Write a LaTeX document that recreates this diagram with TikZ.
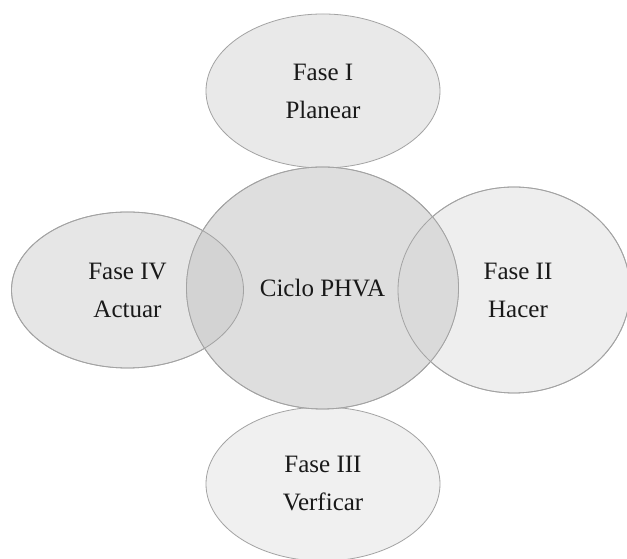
\documentclass[tikz,border=0pt]{standalone}
\usepackage{fontspec}
\setmainfont{Liberation Serif}
\usetikzlibrary{shapes.geometric}
\definecolor{edge}{HTML}{A3A3A3}
\definecolor{fTop}{HTML}{E9E9E9}
\definecolor{fLeft}{HTML}{E6E6E6}
\definecolor{fRight}{HTML}{EEEEEE}
\definecolor{fBot}{HTML}{F0F0F0}
\definecolor{fCen}{HTML}{DEDEDE}
\definecolor{fOvL}{HTML}{D3D3D3}
\definecolor{fOvR}{HTML}{DADADA}
\tikzset{
  phase/.style={ellipse, draw=edge, line width=0.8pt, inner sep=0pt,
    align=center, font=\fontsize{25}{38}\selectfont, text=black!90},
}
\begin{document}
\begin{tikzpicture}[x=1pt,y=1pt]
\useasboundingbox (0,0) rectangle (627,559);
\fill[white] (0,0) rectangle (627,559);
% shapes
\node[phase, fill=fTop, minimum width=234, minimum height=154] (top) at (323,468) {Fase I\\Planear};
\node[phase, fill=fBot, minimum width=234, minimum height=154] (bot) at (323,75) {Fase III\\Verficar};
\node[phase, fill=fLeft, minimum width=232, minimum height=156] (left) at (127.5,269) {};
\node[phase, fill=fRight, minimum width=232, minimum height=206] (right) at (514,269) {};
\node[phase, fill=fCen, minimum width=272, minimum height=242] (cen) at (322.5,271) {};
% overlaps
\begin{scope}
  \clip (127.5,269) ellipse [x radius=116, y radius=78];
  \fill[fOvL] (322.5,271) ellipse [x radius=136, y radius=121];
\end{scope}
\begin{scope}
  \clip (514,269) ellipse [x radius=116, y radius=103];
  \fill[fOvR] (322.5,271) ellipse [x radius=136, y radius=121];
\end{scope}
% outlines
\draw[edge, line width=0.8pt] (left.center) ellipse [x radius=116, y radius=78];
\draw[edge, line width=0.8pt] (right.center) ellipse [x radius=116, y radius=103];
\draw[edge, line width=0.8pt] (cen.center) ellipse [x radius=136, y radius=121];
% labels
\node[align=center, font=\fontsize{25}{38}\selectfont, text=black!90] (lt) at (left.center) {Fase IV\\Actuar};
\node[align=center, font=\fontsize{25}{38}\selectfont, text=black!90] (rt) at ([xshift=4pt]right.center) {Fase II\\Hacer};
\node[font=\fontsize{25}{38}\selectfont, text=black!90] (ct) at (cen.center) {Ciclo PHVA};
\end{tikzpicture}
\end{document}
